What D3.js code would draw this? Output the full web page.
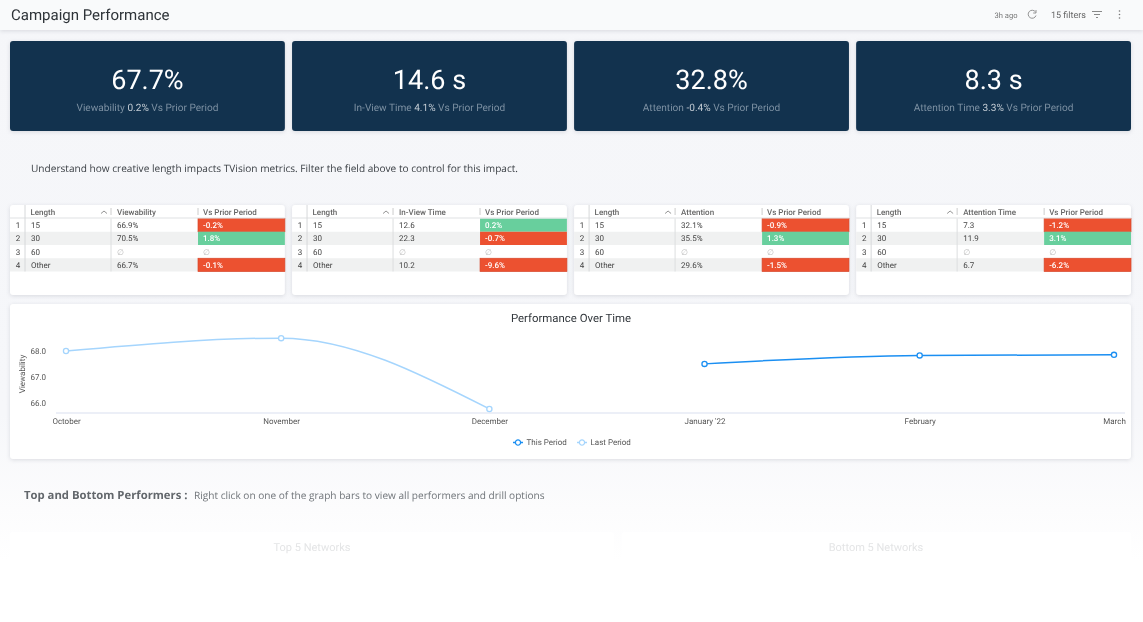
<!DOCTYPE html>
<html>
<head>
<meta charset="utf-8">
<title>Campaign Performance</title>
<script src="https://cdn.jsdelivr.net/npm/d3@7"></script>
<style>
  html, body { margin: 0; padding: 0; background: #fff; overflow: hidden; }
  svg { display: block; font-family: Roboto, sans-serif; text-rendering: geometricPrecision; filter: blur(0.3px); }
  .note { font-family: "Open Sans", sans-serif; }
  .card { filter: drop-shadow(0 1px 2px rgba(60,70,90,0.16)); }
  .axis text { font-family: Roboto, sans-serif; font-size: 8px; fill: #555; }
</style>
</head>
<body>
<div id="chart"></div>
<script>
// KPI tiles
var kpiValues = ['67.7%', '14.6 s', '32.8%', '8.3 s'];
var kpiNames = ['Viewability', 'In-View Time', 'Attention', 'Attention Time'];
var kpiDeltas = ['0.2%', '4.1%', '-0.4%', '3.3%'];

// Tables
var lengths = ['15', '30', '60', 'Other'];
var viewabilityValues = ['66.9%', '70.5%', null, '66.7%'];
var viewabilityDeltas = [-0.2, 1.8, null, -0.1];
var inViewValues = ['12.6', '22.3', null, '10.2'];
var inViewDeltas = [0.2, -0.7, null, -9.6];
var attentionValues = ['32.1%', '35.5%', null, '29.6%'];
var attentionDeltas = [-0.9, 1.3, null, -1.5];
var attentionTimeValues = ['7.3', '11.9', null, '6.7'];
var attentionTimeDeltas = [-1.2, 3.1, null, -6.2];

// Line chart
var months = ['2021-10-01', '2021-11-01', '2021-12-01', '2022-01-01', '2022-02-01', '2022-03-01'];
var monthLabels = ['October', 'November', 'December', "January '22", 'February', 'March'];
var lastPeriod = [68.0, 68.5, 65.75, null, null, null];
var thisPeriod = [null, null, null, 67.5, 67.83, 67.85];
var yTicks = [66, 67, 68];

var width = 1143, height = 622;
var green = '#68cf9d', red = '#ec5130';

var svg = d3.select('#chart').append('svg')
    .attr('width', width)
    .attr('height', height);

// Page background fades out to white at the bottom
var grad = svg.append('defs').append('linearGradient')
    .attr('id', 'fade')
    .attr('x1', 0).attr('x2', 0).attr('y1', 0).attr('y2', 1);
grad.append('stop').attr('offset', '0%').attr('stop-color', '#f5f6f9');
grad.append('stop').attr('offset', '74%').attr('stop-color', '#f6f7fa');
grad.append('stop').attr('offset', '91%').attr('stop-color', '#fcfcfd');
grad.append('stop').attr('offset', '100%').attr('stop-color', '#ffffff');

svg.append('rect').attr('width', width).attr('height', height).attr('fill', '#fff');
svg.append('rect').attr('width', width).attr('height', 560).attr('fill', 'url(#fade)');

// Header
svg.append('rect').attr('class', 'card')
    .attr('width', width).attr('height', 30).attr('fill', '#f9fafb');
svg.append('text').text('Campaign Performance')
    .attr('x', 11).attr('y', 20)
    .attr('font-size', 15).attr('fill', '#2e3338');
svg.append('text').text('3h ago')
    .attr('x', 994.5).attr('y', 18)
    .attr('font-size', 7.6).attr('fill', '#777');
svg.append('text').text('15 filters')
    .attr('x', 1051).attr('y', 18)
    .attr('font-size', 9).attr('fill', '#666');

// Header icons
var icons = svg.append('g').attr('fill', 'none').attr('stroke', '#888').attr('stroke-width', 0.9);
icons.append('path').attr('d', 'M1035.5 12 A4 4 0 1 0 1036 15.5');
icons.append('path').attr('d', 'M1036 10 L1036 13 L1033.2 13');
icons.append('path').attr('d', 'M1092 11.5 H1102 M1094 14.5 H1100 M1096 17.5 H1098').attr('stroke-width', 1);
svg.selectAll('.dot3').data([11, 14.5, 18]).enter().append('circle')
    .attr('class', 'dot3')
    .attr('cx', 1119.5).attr('cy', function(d) { return d; })
    .attr('r', 0.8).attr('fill', '#777');

// KPI tiles + tables share the same four column slots
var slotX = d3.scaleBand().domain(d3.range(4)).range([10, 1131]).paddingInner(7 / 275);

var kpi = svg.selectAll('.kpi').data(kpiValues).enter().append('g')
    .attr('class', 'kpi card')
    .attr('transform', function(d, i) { return 'translate(' + slotX(i) + ',41)'; });
kpi.append('rect')
    .attr('width', slotX.bandwidth()).attr('height', 90).attr('rx', 3)
    .attr('fill', '#12324e');
kpi.append('text').text(function(d) { return d; })
    .attr('x', slotX.bandwidth() / 2).attr('y', 47.5)
    .attr('text-anchor', 'middle')
    .attr('font-size', 27).attr('fill', '#fff');
var kpiSub = kpi.append('text')
    .attr('x', slotX.bandwidth() / 2).attr('y', 69.5)
    .attr('text-anchor', 'middle')
    .attr('font-size', 10.1).attr('fill', '#7c90a2');
kpiSub.append('tspan').text(function(d, i) { return kpiNames[i] + ' '; });
kpiSub.append('tspan').attr('fill', '#c3ccd4').text(function(d, i) { return kpiDeltas[i]; });
kpiSub.append('tspan').text(' Vs Prior Period');

// Notes
svg.append('text').attr('class', 'note')
    .text('Understand how creative length impacts TVision metrics. Filter the field above to control for this impact.')
    .attr('x', 31).attr('y', 172)
    .attr('font-size', 10.1).attr('fill', '#3a3f44');

var performers = svg.append('text').attr('class', 'note').attr('x', 24).attr('y', 499);
performers.append('tspan').text('Top and Bottom Performers :')
    .attr('font-size', 11.3).attr('font-weight', 700).attr('fill', '#62676c');
performers.append('tspan').text('Right click on one of the graph bars to view all performers and drill options')
    .attr('x', 194)
    .attr('font-size', 10.1).attr('fill', '#6f7479');

// Tables
var tables = [
    {name: kpiNames[0], values: viewabilityValues, deltas: viewabilityDeltas},
    {name: kpiNames[1], values: inViewValues, deltas: inViewDeltas},
    {name: kpiNames[2], values: attentionValues, deltas: attentionDeltas},
    {name: kpiNames[3], values: attentionTimeValues, deltas: attentionTimeDeltas}
];
var rowY = d3.scaleBand().domain(lengths).range([13.5, 66.5]);
var colX = {index: 15, length: 101, value: 188, end: slotX.bandwidth()};

tables.forEach(function(t, ti) {
    var g = svg.append('g')
        .attr('transform', 'translate(' + slotX(ti) + ',205)');
    g.append('rect').attr('class', 'card')
        .attr('width', slotX.bandwidth()).attr('height', 90).attr('rx', 3).attr('fill', '#fff');

    // zebra rows
    g.selectAll('.zebra').data(lengths.filter(function(d, i) { return i % 2 == 1; }))
        .enter().append('rect')
        .attr('class', 'zebra')
        .attr('y', function(d) { return rowY(d); })
        .attr('width', colX.end).attr('height', rowY.bandwidth())
        .attr('fill', '#f0f1f1');

    // coloured delta cells, first and last red ones carry a darker edge
    var cells = t.deltas.map(function(d, i) { return {delta: d, row: lengths[i], index: i}; })
        .filter(function(d) { return d.delta !== null; });
    g.selectAll('.cell').data(cells).enter().append('rect')
        .attr('class', 'cell')
        .attr('x', colX.value)
        .attr('y', function(d) { return rowY(d.row); })
        .attr('width', colX.end - colX.value).attr('height', rowY.bandwidth())
        .attr('fill', function(d) { return d.delta >= 0 ? green : red; })
        .attr('stroke', function(d) { return d.delta < 0 && d.index != 1 ? '#d9472a' : 'none'; })
        .attr('stroke-width', 0.7);

    // header rule and column rules
    g.append('line').attr('x1', 0).attr('x2', colX.end).attr('y1', 13).attr('y2', 13)
        .attr('stroke', '#dfe1e3').attr('stroke-width', 1.2);
    g.append('line').attr('x1', colX.index).attr('x2', colX.index).attr('y1', 0).attr('y2', 66.5)
        .attr('stroke', '#d6d8da');
    g.append('line').attr('x1', colX.length).attr('x2', colX.length).attr('y1', 13.5).attr('y2', 66.5)
        .attr('stroke', '#dcdedf');
    g.append('line').attr('x1', colX.length).attr('x2', colX.length).attr('y1', 3).attr('y2', 10)
        .attr('stroke', '#ccc');
    g.append('line').attr('x1', colX.value).attr('x2', colX.value).attr('y1', 3).attr('y2', 10)
        .attr('stroke', '#ccc');

    // header text
    var head = g.append('g').attr('font-size', 8).attr('font-weight', 500).attr('fill', '#666');
    head.append('text').text('Length').attr('x', 20.5).attr('y', 9.5);
    head.append('text').text(t.name).attr('x', 107).attr('y', 9.5);
    head.append('text').text('Vs Prior Period').attr('x', 193).attr('y', 9.5);
    g.append('path').attr('d', 'M91 8.5 L94 6 L97 8.5')
        .attr('fill', 'none').attr('stroke', '#777').attr('stroke-width', 0.8);

    // body text
    lengths.forEach(function(len, i) {
        var y = rowY(len) + rowY.bandwidth() / 2 + 2.9;
        var row = g.append('g').attr('font-size', 8).attr('fill', '#444');
        row.append('text').text(i + 1).attr('x', colX.index / 2 + 0.5).attr('y', y).attr('text-anchor', 'middle');
        row.append('text').text(len).attr('x', 21).attr('y', y);
        row.append('text').text(t.values[i] === null ? '∅' : t.values[i])
            .attr('x', 107).attr('y', y)
            .attr('fill', t.values[i] === null ? '#bbb' : '#444');
        var delta = t.deltas[i];
        row.append('text').text(delta === null ? '∅' : delta + '%')
            .attr('x', 193).attr('y', y)
            .attr('fill', delta === null ? '#bbb' : '#fff')
            .attr('font-weight', 500);
    });
});

// Performance Over Time panel
svg.append('rect').attr('class', 'card')
    .attr('x', 10).attr('y', 304)
    .attr('width', 1121).attr('height', 155).attr('rx', 3).attr('fill', '#fff');
svg.append('text').text('Performance Over Time')
    .attr('x', 571).attr('y', 322)
    .attr('text-anchor', 'middle')
    .attr('font-size', 11.4).attr('fill', '#33383d');

var parseDate = d3.timeParse('%Y-%m-%d');
var dates = months.map(parseDate);

var xScale = d3.scaleTime()
    .domain([dates[0], dates[dates.length - 1]])
    .range([66, 1114]);
var yScale = d3.scaleLinear()
    .domain([66, 68])
    .range([402.5, 351]);

// X axis
var xAxis = svg.append('g').attr('class', 'axis')
    .attr('transform', 'translate(0,413)')
    .call(d3.axisBottom(xScale)
        .tickValues(dates)
        .tickSize(0)
        .tickPadding(5)
        .tickFormat(function(d, i) { return monthLabels[i]; }));
xAxis.select('.domain').remove();
svg.append('line')
    .attr('x1', 56).attr('x2', 1125).attr('y1', 413).attr('y2', 413)
    .attr('stroke', '#e6eaf4').attr('stroke-width', 1.6);

// Y axis
var yAxis = svg.append('g').attr('class', 'axis')
    .attr('transform', 'translate(46,0)')
    .call(d3.axisLeft(yScale)
        .tickValues(yTicks)
        .tickSize(0)
        .tickPadding(0)
        .tickFormat(d3.format('.1f')));
yAxis.select('.domain').remove();
svg.append('text').text('Viewability')
    .attr('transform', 'translate(25,374)rotate(-90)')
    .attr('text-anchor', 'middle')
    .attr('font-size', 8).attr('fill', '#555');

// Lines
var line = d3.line()
    .defined(function(d) { return d.value !== null; })
    .x(function(d) { return xScale(d.date); })
    .y(function(d) { return yScale(d.value); })
    .curve(d3.curveMonotoneX);

var series = [
    {name: 'This Period', values: thisPeriod, color: '#1b8ff2', legendX: 518},
    {name: 'Last Period', values: lastPeriod, color: '#a5d5fd', legendX: 582}
];

// draw older series first so the current one sits on top
series.slice().reverse().forEach(function(s) {
    var pts = s.values.map(function(v, i) { return {date: dates[i], value: v}; });
    var defined = pts.filter(line.defined());
    svg.append('path').datum(pts)
        .attr('d', line)
        .attr('fill', 'none')
        .attr('stroke', s.color)
        .attr('stroke-width', 1.5);
    svg.selectAll('.pt' + s.legendX).data(defined).enter().append('circle')
        .attr('class', 'pt' + s.legendX)
        .attr('cx', function(d) { return xScale(d.date); })
        .attr('cy', function(d) { return yScale(d.value); })
        .attr('r', 2.6)
        .attr('fill', '#fff')
        .attr('stroke', s.color)
        .attr('stroke-width', 1.3);
});

// Legend
var legend = svg.selectAll('.legend').data(series).enter().append('g')
    .attr('class', 'legend')
    .attr('transform', function(d) { return 'translate(' + d.legendX + ',442.5)'; });
legend.append('line')
    .attr('x1', -5).attr('x2', 5)
    .attr('stroke', function(d) { return d.color; }).attr('stroke-width', 1.5);
legend.append('circle')
    .attr('r', 2.6).attr('fill', '#fff')
    .attr('stroke', function(d) { return d.color; }).attr('stroke-width', 1.3);
legend.append('text').text(function(d) { return d.name; })
    .attr('x', 8.5).attr('y', 2.5)
    .attr('font-size', 8).attr('fill', '#555');

// Bottom panels, almost faded out
var bottom = svg.append('g');
bottom.selectAll('rect').data([[10, 604], [622, 509]]).enter().append('rect')
    .attr('x', function(d) { return d[0]; })
    .attr('y', 532)
    .attr('width', function(d) { return d[1]; })
    .attr('height', 28).attr('rx', 3)
    .attr('fill', '#fff');
bottom.selectAll('text').data([['Top 5 Networks', 312], ['Bottom 5 Networks', 876]]).enter().append('text')
    .text(function(d) { return d[0]; })
    .attr('x', function(d) { return d[1]; })
    .attr('y', 551)
    .attr('text-anchor', 'middle')
    .attr('font-size', 11).attr('fill', '#e4e5e6');
</script>
</body>
</html>
